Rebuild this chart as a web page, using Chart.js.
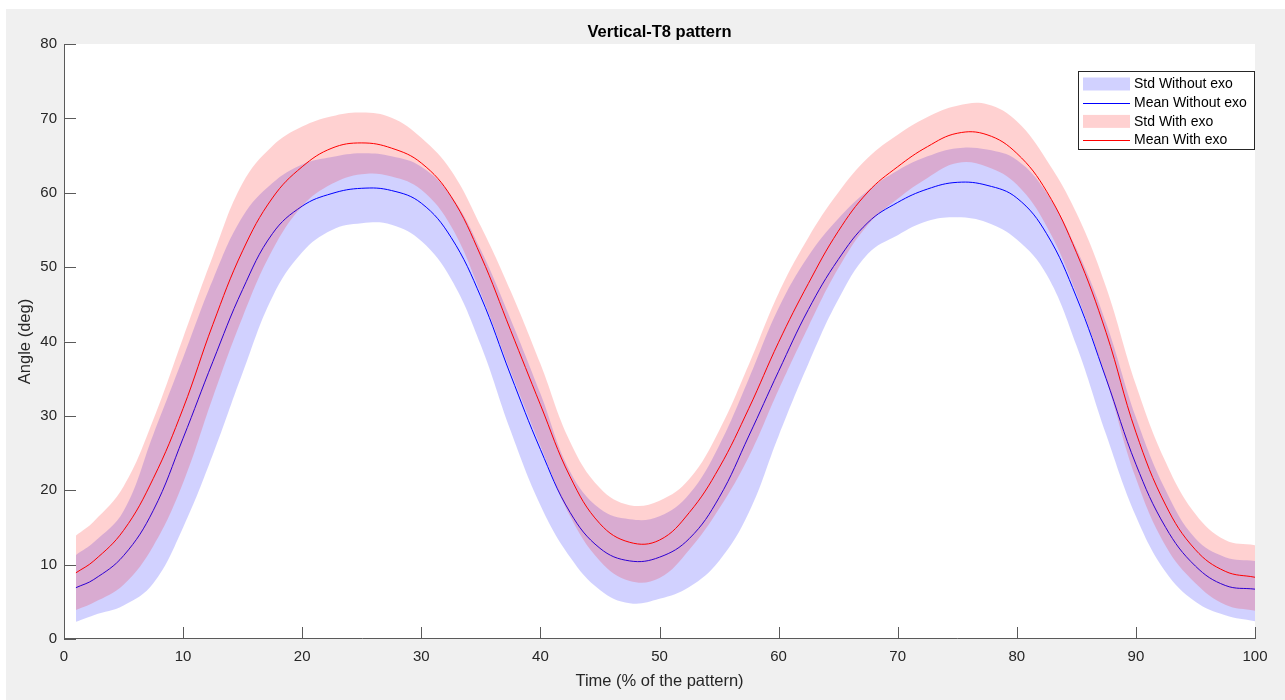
<!DOCTYPE html>
<html>
<head>
<meta charset="utf-8">
<script src="https://cdn.jsdelivr.net/npm/chart.js@4.4.1/dist/chart.umd.min.js"></script>
<style>
  body { margin: 0; background: #fff; }
  #myChart { position: absolute; left: 0; top: 0; }
</style>
</head>
<body>
<canvas id="myChart" width="1285" height="700"></canvas>
<script>
const FONT = "'Liberation Sans', Arial, Helvetica, sans-serif";

const timePct = [1, 2.5, 5, 7.5, 10, 12.5, 15, 17.5, 20, 22.5, 25, 27.5, 30, 32.5, 35, 37.5, 40, 42.5, 45, 47.5, 50,
  52.5, 55, 57.5, 60, 62.5, 65, 67.5, 70, 72.5, 75, 77.5, 80, 82.5, 85, 87.5, 90, 92.5, 95, 97.5, 100];

// without exo
const meanWithout = [6.9, 8, 11.2, 17.3, 27, 37.3, 47, 54.5, 58.2, 59.9, 60.6, 60.3, 58.6, 54, 46, 35.5, 25.5, 17, 12.2, 10.5, 11,
  13.5, 19, 27.3, 36, 44.3, 51, 56, 58.7, 60.5, 61.4, 61, 59.3, 54.5, 46, 35, 23.5, 15, 9.8, 7.2, 6.7];
const upperWithout = [11.3, 13, 17.2, 27.5, 37.8, 48.3, 56.8, 61.3, 63.8, 64.8, 65.3, 64.9, 63.5, 59.6, 52.3, 43, 33, 22.5, 17.5, 16.1, 16.5,
  19.5, 26, 35, 44.5, 51.5, 56.5, 60.3, 63, 64.9, 66, 65.8, 64.4, 60, 52.5, 42.5, 29.8, 20, 13.5, 11, 10.5];
const lowerWithout = [2.3, 3.2, 4.5, 7.5, 15, 24.8, 35.8, 46, 52, 55, 55.9, 55.7, 53.5, 48.4, 39.5, 28, 18, 11, 6.6, 4.8, 5.4,
  7, 10.5, 17, 27.3, 37, 45.6, 51.8, 54.3, 56.2, 56.7, 56, 53.7, 49, 39.5, 27.5, 16.5, 9, 5, 3.2, 2.4];

// with exo
const meanWith = [8.9, 10.5, 14.6, 21.6, 31, 42.3, 52.2, 59.3, 63.5, 66, 66.7, 66, 64, 59.5, 51.5, 41.5, 31.5, 21.8, 15.5, 13, 13.3,
  17, 23, 31, 39.9, 47.8, 54.8, 60.1, 63.5, 66.2, 68, 67.8, 65.3, 60.2, 52, 41.2, 27.8, 18, 12, 9.1, 8.3];
const upperWith = [13.9, 15.8, 20.5, 29.5, 40.5, 51.5, 61.3, 66.3, 68.9, 70.3, 70.8, 70.1, 67.4, 63, 55.5, 46.8, 37, 26.5, 20.3, 18, 18.6,
  21.5, 28, 36.9, 46.5, 54, 60, 64.7, 67.8, 70.2, 71.7, 71.9, 69.6, 64.4, 57.3, 47.3, 34.2, 23.8, 16.8, 13.3, 12.6];
const lowerWith = [3.9, 4.9, 7.3, 12.5, 21, 32.5, 43.3, 52.3, 58.2, 61.2, 62.5, 62.2, 60.4, 55.5, 46.5, 36, 26, 16.5, 10.5, 7.8, 8.2,
  12, 17.5, 24.5, 33.5, 42, 49.8, 55.7, 59.2, 62, 64, 63.5, 61.1, 55.5, 46.5, 34.9, 21.6, 12.5, 7.5, 4.6, 3.8];

const xTicks = [0, 10, 20, 30, 40, 50, 60, 70, 80, 90, 100];
const yTicks = [0, 10, 20, 30, 40, 50, 60, 70, 80];

const toPoints = (arr) => timePct.map((t, i) => ({ x: t, y: arr[i] }));

const BLUE_FILL = 'rgba(0, 0, 255, 0.18)';
const RED_FILL = 'rgba(255, 0, 0, 0.18)';
const AXIS_COLOR = '#5a5a5a';

// gray figure + white axes box
const figureBackground = {
  id: 'figureBackground',
  beforeDraw(chart) {
    const { ctx, chartArea: { top, left, bottom, right } } = chart;
    ctx.save();
    ctx.fillStyle = '#f0f0f0';
    ctx.fillRect(6, 9, chart.width - 6, chart.height - 9);
    ctx.fillStyle = '#ffffff';
    ctx.fillRect(left, top, right - left, bottom - top);
    ctx.restore();
  }
};

// matlab style axes: left + bottom lines, ticks pointing inside
const matlabAxes = {
  id: 'matlabAxes',
  afterDatasetsDraw(chart) {
    const { ctx, chartArea: { top, left, bottom, right }, scales: { x, y } } = chart;
    ctx.save();
    ctx.strokeStyle = AXIS_COLOR;
    ctx.lineWidth = 1;
    ctx.beginPath();
    ctx.moveTo(left + 0.5, top);
    ctx.lineTo(left + 0.5, bottom - 0.5);
    ctx.lineTo(right + 0.5, bottom - 0.5);
    x.ticks.forEach(t => {
      const px = Math.round(x.getPixelForValue(t.value)) + 0.5;
      ctx.moveTo(px, bottom);
      ctx.lineTo(px, bottom - 12);
    });
    y.ticks.forEach(t => {
      const py = Math.round(y.getPixelForValue(t.value)) + 0.5;
      ctx.moveTo(left, py);
      ctx.lineTo(left + 12, py);
    });
    ctx.stroke();
    ctx.restore();
  }
};

// boxed legend in the top right corner
const boxLegend = {
  id: 'boxLegend',
  afterDraw(chart) {
    const { ctx, data, chartArea: { top, right } } = chart;
    const items = data.datasets.filter(d => d.label).reverse();
    const boxLeft = right - 177;
    const boxTop = top + 27;
    const rowH = 18.7;
    ctx.save();
    ctx.fillStyle = '#ffffff';
    ctx.fillRect(boxLeft, boxTop, right - boxLeft, 78);
    ctx.strokeStyle = '#262626';
    ctx.lineWidth = 1;
    ctx.strokeRect(boxLeft + 0.5, boxTop + 0.5, right - boxLeft - 1, 78);
    ctx.font = '14px ' + FONT;
    ctx.textBaseline = 'middle';
    ctx.textAlign = 'left';
    items.forEach((d, i) => {
      const cy = boxTop + 13 + i * rowH;
      if (d.fill) {
        ctx.fillStyle = d.backgroundColor;
        ctx.fillRect(boxLeft + 5, cy - 6.5, 47, 13);
      } else {
        ctx.strokeStyle = d.borderColor;
        ctx.beginPath();
        ctx.moveTo(boxLeft + 5, Math.round(cy) + 0.5);
        ctx.lineTo(boxLeft + 52, Math.round(cy) + 0.5);
        ctx.stroke();
      }
      ctx.fillStyle = '#000000';
      ctx.fillText(d.label, boxLeft + 56, cy + 0.5);
    });
    ctx.restore();
  }
};

new Chart(document.getElementById('myChart'), {
  type: 'line',
  data: {
    datasets: [
      { label: 'Mean With exo', data: toPoints(meanWith), borderColor: '#ff0000', borderWidth: 1, fill: false },
      { label: 'Std With exo', data: toPoints(upperWith), borderWidth: 0, backgroundColor: RED_FILL, fill: '+1' },
      { label: '', data: toPoints(lowerWith), borderWidth: 0, fill: false },
      { label: 'Mean Without exo', data: toPoints(meanWithout), borderColor: '#0000ff', borderWidth: 1, fill: false },
      { label: 'Std Without exo', data: toPoints(upperWithout), borderWidth: 0, backgroundColor: BLUE_FILL, fill: '+1' },
      { label: '', data: toPoints(lowerWithout), borderWidth: 0, fill: false }
    ]
  },
  options: {
    responsive: false,
    animation: false,
    devicePixelRatio: 1,
    layout: { padding: { left: 0, right: 30, top: 0, bottom: 0 } },
    elements: {
      point: { radius: 0 },
      line: { tension: 0.4 }
    },
    scales: {
      x: {
        type: 'linear',
        min: 0,
        max: 100,
        afterFit(scale) { scale.height = 61; },
        afterBuildTicks(scale) { scale.ticks = xTicks.map(v => ({ value: v })); },
        grid: { display: false, drawTicks: false },
        border: { display: false },
        ticks: { color: '#262626', padding: 9, maxRotation: 0, font: { family: FONT, size: 15 } },
        title: {
          display: true, text: 'Time (% of the pattern)', color: '#262626',
          font: { family: FONT, size: 16.5 }, padding: { top: 0, bottom: 9 }
        }
      },
      y: {
        min: 0,
        max: 80,
        afterFit(scale) { scale.width = 64; },
        afterBuildTicks(scale) { scale.ticks = yTicks.map(v => ({ value: v })); },
        grid: { display: false, drawTicks: false },
        border: { display: false },
        ticks: { color: '#262626', padding: 7, font: { family: FONT, size: 15 } },
        title: {
          display: true, text: 'Angle (deg)', color: '#262626',
          font: { family: FONT, size: 16.5 }, padding: { top: 16, bottom: 0 }
        }
      }
    },
    plugins: {
      legend: { display: false },
      tooltip: { enabled: false },
      title: {
        display: true,
        text: 'Vertical-T8 pattern',
        color: '#000000',
        fullSize: false,
        font: { family: FONT, size: 16.5, weight: 'bold' },
        padding: { top: 23, bottom: 1.2 }
      }
    }
  },
  plugins: [figureBackground, matlabAxes, boxLegend]
});
</script>
</body>
</html>
